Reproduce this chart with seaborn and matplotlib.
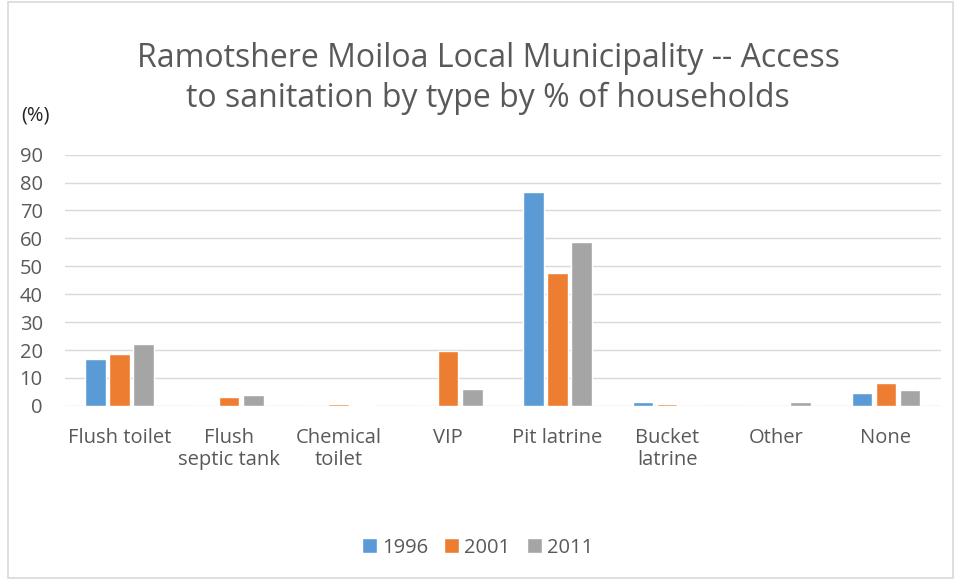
import pandas as pd
import matplotlib
matplotlib.use("Agg")
import matplotlib.pyplot as plt
import seaborn as sns
from matplotlib.patches import Rectangle

# Chart data
categories = ["Flush toilet", "Flush\nseptic tank", "Chemical\ntoilet", "VIP",
              "Pit latrine", "Bucket\nlatrine", "Other", "None"]
years = ["1996", "2001", "2011"]
values_1996 = [16.9, 0, 0, 0, 76.5, 1.3, 0, 4.7]
values_2001 = [18.5, 3.1, 0.8, 19.5, 47.6, 0.7, 0, 8.3]
values_2011 = [22.1, 4.0, 0.3, 6.2, 58.7, 0, 1.3, 5.6]
colors = ["#5B9BD5", "#ED7D31", "#A5A5A5"]

rows = []
for year, vals in zip(years, [values_1996, values_2001, values_2011]):
    for cat, v in zip(categories, vals):
        rows.append({"Type": cat, "Year": year, "Value": v})
df = pd.DataFrame(rows)

sns.set_style("white")
plt.rcParams["font.family"] = ["Open Sans", "DejaVu Sans"]
text_color = "#595959"
fs = 14.5

fig = plt.figure(figsize=(9.55, 5.79), dpi=100)
ax = fig.add_axes([0.068, 0.299, 0.917, 0.434])

sns.barplot(data=df, x="Type", y="Value", hue="Year", palette=colors,
            width=0.66, gap=0.14, ax=ax, saturation=1, legend=True)

ax.set_ylim(0, 90)
ax.set_yticks(range(0, 91, 10))
ax.yaxis.grid(True, color="#D9D9D9", linewidth=1)
ax.set_axisbelow(True)
for s in ax.spines.values():
    s.set_visible(False)
ax.set_xlabel("")
ax.set_ylabel("")
ax.tick_params(axis="both", length=0, labelsize=fs, colors=text_color)
ax.tick_params(axis="y", pad=16)
ax.tick_params(axis="x", pad=16)
for lbl in ax.get_xticklabels():
    lbl.set_verticalalignment("top")
    lbl.set_linespacing(1.1)

fig.text(0.511, 0.864, "Ramotshere Moiloa Local Municipality -- Access\nto sanitation by type by % of households",
         ha="center", va="center", fontsize=23, color=text_color, linespacing=1.25)
fig.text(0.022, 0.80, "(%)", fontsize=fs, color="#262626", va="center")

leg = ax.legend(loc="center", bbox_to_anchor=(0.5, 0.054), bbox_transform=fig.transFigure,
                ncol=3, frameon=False, fontsize=fs, handlelength=0.75, handleheight=0.75,
                handletextpad=0.25, columnspacing=0.8)
for t in leg.get_texts():
    t.set_color(text_color)

# chart border
fig.patches.append(Rectangle((0.008, 0.002), 0.99, 0.995, transform=fig.transFigure,
                             fill=False, edgecolor="#D9D9D9", linewidth=1.2))

fig.savefig("out.png", dpi=100)
